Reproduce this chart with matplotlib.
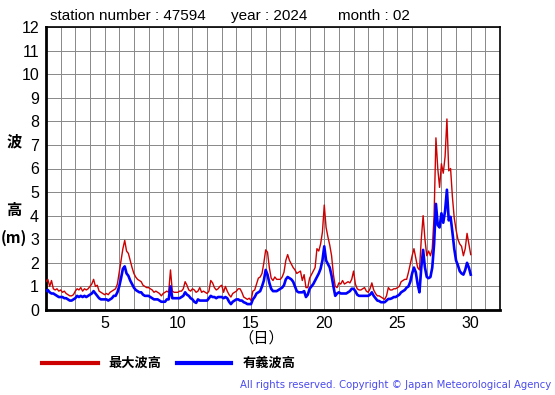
import numpy as np
import matplotlib
matplotlib.use("Agg")
import matplotlib.pyplot as plt
from matplotlib.lines import Line2D

# ---- data (3-hourly readings, Feb 2024, station 47594) ----
max_wave = [
    1.2, 1.3, 1.0, 1.25, 0.9, 0.85, 0.9, 0.8,
    0.85, 0.75, 0.8, 0.7, 0.65, 0.6, 0.6, 0.65,
    0.8, 0.9, 0.85, 0.95, 0.8, 0.9, 0.85, 0.9,
    1.0, 1.1, 1.3, 1.0, 1.05, 0.8, 0.75, 0.7,
    0.65, 0.7, 0.65, 0.75, 0.8, 0.85, 0.9, 1.1,
    1.6, 2.1, 2.6, 2.95, 2.5, 2.4, 2.1, 1.8,
    1.55, 1.4, 1.3, 1.25, 1.2, 1.05, 1.0, 0.95,
    0.95, 0.9, 0.85, 0.75, 0.8, 0.75, 0.7, 0.6,
    0.7, 0.75, 0.8, 0.75, 1.7, 0.8, 0.75, 0.75,
    0.75, 0.8, 0.8, 0.9, 1.2, 1.05, 0.85, 0.8,
    0.9, 0.85, 0.75, 0.8, 0.95, 0.75, 0.8, 0.75,
    0.7, 0.8, 1.25, 1.15, 0.95, 0.85, 0.9, 1.0,
    1.05, 0.75, 1.0, 0.8, 0.65, 0.55, 0.7, 0.75,
    0.8, 0.9, 0.9, 0.75, 0.55, 0.5, 0.45, 0.5,
    0.4, 0.8, 0.85, 1.1, 1.35, 1.4, 1.55, 2.0,
    2.55, 2.45, 1.8, 1.35, 1.25, 1.4, 1.3, 1.3,
    1.3, 1.4, 1.6, 2.1, 2.35, 2.1, 1.95, 1.8,
    1.7, 1.55, 1.6, 1.65, 1.25, 1.5, 0.95, 0.95,
    1.35, 1.5, 1.65, 1.8, 2.6, 2.5, 2.8, 3.3,
    4.45, 3.5, 3.1, 2.75, 2.3, 1.5, 1.0, 0.95,
    1.15, 1.1, 1.25, 1.1, 1.15, 1.2, 1.15, 1.3,
    1.65, 1.1, 0.9, 0.85, 0.85, 0.9, 0.95, 0.8,
    0.75, 0.9, 1.15, 0.85, 0.7, 0.6, 0.6, 0.55,
    0.5, 0.45, 0.6, 0.95, 0.85, 0.85, 0.9, 0.9,
    0.95, 1.0, 1.2, 1.25, 1.3, 1.3, 1.6, 1.95,
    2.3, 2.6, 2.2, 1.8, 1.7, 3.0, 4.0, 3.0,
    2.3, 2.5, 2.3, 2.6, 4.0, 7.3, 6.0, 5.2,
    6.2, 5.8, 6.5, 8.1, 5.9, 6.0, 4.8, 3.9,
    3.4, 3.0, 2.8, 2.7, 2.3, 2.6, 3.25, 2.8,
    2.35,
]
sig_wave = [
    0.8, 0.85, 0.75, 0.7, 0.7, 0.65, 0.6, 0.55,
    0.55, 0.55, 0.5, 0.5, 0.45, 0.4, 0.4, 0.45,
    0.5, 0.6, 0.55, 0.6, 0.55, 0.6, 0.55, 0.6,
    0.65, 0.7, 0.8, 0.7, 0.6, 0.5, 0.45, 0.45,
    0.45, 0.45, 0.4, 0.45, 0.5, 0.6, 0.6, 0.75,
    1.0, 1.35, 1.75, 1.85, 1.55, 1.45, 1.25, 1.1,
    0.95, 0.85, 0.8, 0.75, 0.75, 0.65, 0.6, 0.6,
    0.6, 0.55, 0.5, 0.45, 0.45, 0.45, 0.4, 0.35,
    0.35, 0.35, 0.45, 0.45, 1.0, 0.5, 0.5, 0.5,
    0.5, 0.5, 0.55, 0.6, 0.75, 0.65, 0.6, 0.5,
    0.45, 0.35, 0.3, 0.45, 0.4, 0.4, 0.4, 0.4,
    0.4, 0.5, 0.6, 0.55, 0.55, 0.5, 0.55, 0.55,
    0.55, 0.5, 0.55, 0.5, 0.35, 0.25, 0.35, 0.4,
    0.45, 0.45, 0.4, 0.4, 0.33, 0.3, 0.25, 0.25,
    0.25, 0.45, 0.55, 0.7, 0.75, 0.8, 1.0, 1.25,
    1.7, 1.5, 1.15, 0.9, 0.8, 0.8, 0.8, 0.85,
    0.9, 0.95, 1.05, 1.3, 1.4, 1.35, 1.3, 1.2,
    1.0, 0.8, 0.75, 0.75, 0.75, 0.8, 0.55, 0.65,
    0.9, 1.0, 1.1, 1.25, 1.4, 1.55, 1.75, 2.1,
    2.7, 2.1, 1.95, 1.8, 1.45, 1.0, 0.6, 0.7,
    0.75, 0.7, 0.7, 0.7, 0.7, 0.75, 0.8, 0.9,
    0.9, 0.8, 0.65, 0.6, 0.6, 0.6, 0.6, 0.6,
    0.6, 0.65, 0.75, 0.6, 0.5, 0.4, 0.38, 0.33,
    0.33, 0.33, 0.4, 0.47, 0.47, 0.5, 0.55, 0.55,
    0.6, 0.65, 0.75, 0.8, 0.85, 0.95, 1.0, 1.2,
    1.55, 1.8, 1.6, 1.1, 0.75, 1.8, 2.55, 1.8,
    1.4, 1.35, 1.4, 1.8, 2.8, 4.5, 3.6, 3.5,
    4.1, 3.7, 4.2, 5.1, 3.8, 3.95, 3.3, 2.6,
    2.1, 1.9, 1.65, 1.55, 1.5, 1.7, 2.0, 1.8,
    1.5,
]
start_day = 1
samples_per_day = 8
x_ticks = [5, 10, 15, 20, 25, 30]
y_ticks = list(range(0, 13))
title_parts = ["station number : 47594", "year : 2024", "month : 02"]
legend_labels = ["最大波高", "有義波高"]

days = start_day + np.arange(len(max_wave)) / samples_per_day

plt.rcParams['font.family'] = ['Liberation Sans', 'DejaVu Sans']
cjk = ['Noto Sans CJK JP', 'DejaVu Sans']

W, H = 555, 395
def fx(px):
    return px / W
def fy(py):
    return 1 - py / H

fig = plt.figure(figsize=(5.55, 3.95), dpi=100)
ax = fig.add_axes([fx(46), fy(310), (500 - 46) / W, (310 - 27) / H])

ax.plot(days, max_wave, color='#cc0000', lw=1.0, zorder=3)
ax.plot(days, sig_wave, color='#0000ff', lw=1.9, zorder=4)

ax.set_xlim(1, 32)
ax.set_ylim(0, 12)
ax.set_xticks(x_ticks)
ax.set_xticks(np.arange(2, 32), minor=True)
ax.set_yticks(y_ticks)
ax.grid(True, which='both', color='#888888', lw=0.7, zorder=1)
ax.tick_params(axis='both', which='both', length=0, labelsize=11.5, pad=4)
ax.tick_params(axis='y', pad=5)
for s in ax.spines.values():
    s.set_color('black')
    s.set_linewidth(1.2)
ax.spines['left'].set_linewidth(2)
ax.spines['bottom'].set_linewidth(2)

for txt, px in zip(title_parts, [50, 231, 338]):
    fig.text(fx(px), fy(16), txt, fontsize=11, va='center', ha='left')

fig.text(fx(14), fy(141), "波", fontsize=11, fontweight='bold', family=cjk, ha='center', va='center')
fig.text(fx(14), fy(210), "高", fontsize=11, fontweight='bold', family=cjk, ha='center', va='center')
fig.text(fx(14), fy(238), "(m)", fontsize=11, fontweight='bold', family=cjk, ha='center', va='center')
fig.text(fx(261), fy(338), "（日）", fontsize=11, family=cjk, ha='center', va='center')

ly = fy(363)
fig.add_artist(Line2D([fx(42), fx(98)], [ly, ly], color='#cc0000', lw=3, transform=fig.transFigure))
fig.text(fx(108), ly, legend_labels[0], fontsize=9.5, fontweight='bold', family=cjk, va='center')
fig.add_artist(Line2D([fx(177), fx(231)], [ly, ly], color='#0000ff', lw=3, transform=fig.transFigure))
fig.text(fx(243), ly, legend_labels[1], fontsize=9.5, fontweight='bold', family=cjk, va='center')

fig.text(fx(551), fy(385), "All rights reserved. Copyright © Japan Meteorological Agency",
         fontsize=7.3, color='#4a4aee', ha='right', va='center', family='DejaVu Sans')

fig.savefig("out.png", dpi=100)
